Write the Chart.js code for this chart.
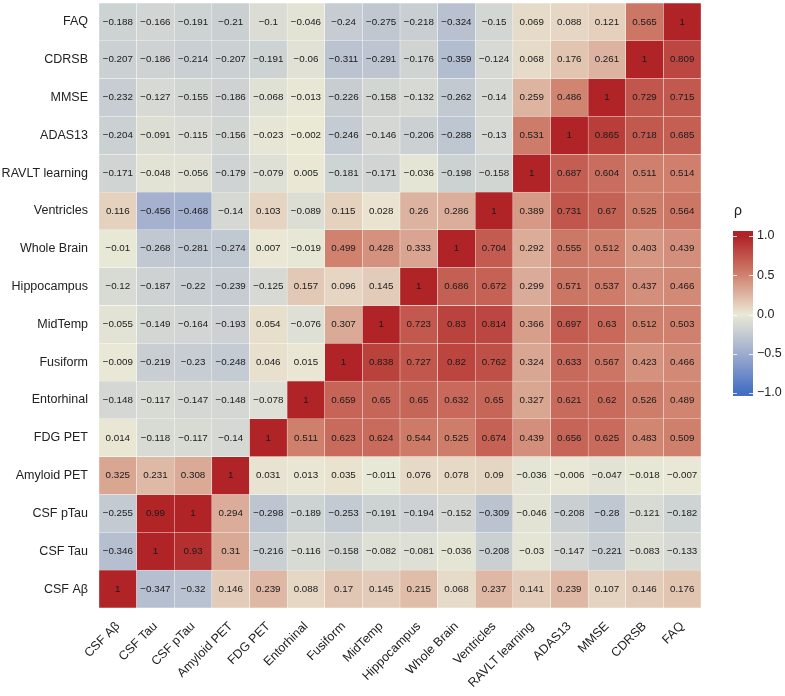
<!DOCTYPE html>
<html>
<head>
<meta charset="utf-8">
<script src="https://cdn.jsdelivr.net/npm/chart.js@4.4.0/dist/chart.umd.min.js"></script>
<style>
  body { margin: 0; background: #fff; }
  #wrap { width: 785px; height: 696px; }
</style>
</head>
<body>
<div id="wrap"><canvas id="heat" width="785" height="696"></canvas></div>
<script>
// variable names, x axis left to right, y axis bottom to top
const labels = ["CSF A\u03b2", "CSF Tau", "CSF pTau", "Amyloid PET", "FDG PET", "Entorhinal", "Fusiform",
    "MidTemp", "Hippocampus", "Whole Brain", "Ventricles", "RAVLT learning", "ADAS13", "MMSE", "CDRSB", "FAQ"];

// one row per y label, values in x label order
const rowCsfAb = [1, -0.347, -0.32, 0.146, 0.239, 0.088, 0.17, 0.145, 0.215, 0.068, 0.237, 0.141, 0.239, 0.107, 0.146, 0.176];
const rowCsfTau = [-0.346, 1, 0.93, 0.31, -0.216, -0.116, -0.158, -0.082, -0.081, -0.036, -0.208, -0.03, -0.147, -0.221, -0.083, -0.133];
const rowCsfPTau = [-0.255, 0.99, 1, 0.294, -0.298, -0.189, -0.253, -0.191, -0.194, -0.152, -0.309, -0.046, -0.208, -0.28, -0.121, -0.182];
const rowAmyloid = [0.325, 0.231, 0.308, 1, 0.031, 0.013, 0.035, -0.011, 0.076, 0.078, 0.09, -0.036, -0.006, -0.047, -0.018, -0.007];
const rowFdg = [0.014, -0.118, -0.117, -0.14, 1, 0.511, 0.623, 0.624, 0.544, 0.525, 0.674, 0.439, 0.656, 0.625, 0.483, 0.509];
const rowEntorhinal = [-0.148, -0.117, -0.147, -0.148, -0.078, 1, 0.659, 0.65, 0.65, 0.632, 0.65, 0.327, 0.621, 0.62, 0.526, 0.489];
const rowFusiform = [-0.009, -0.219, -0.23, -0.248, 0.046, 0.015, 1, 0.838, 0.727, 0.82, 0.762, 0.324, 0.633, 0.567, 0.423, 0.466];
const rowMidTemp = [-0.055, -0.149, -0.164, -0.193, 0.054, -0.076, 0.307, 1, 0.723, 0.83, 0.814, 0.366, 0.697, 0.63, 0.512, 0.503];
const rowHippo = [-0.12, -0.187, -0.22, -0.239, -0.125, 0.157, 0.096, 0.145, 1, 0.686, 0.672, 0.299, 0.571, 0.537, 0.437, 0.466];
const rowWholeBrain = [-0.01, -0.268, -0.281, -0.274, 0.007, -0.019, 0.499, 0.428, 0.333, 1, 0.704, 0.292, 0.555, 0.512, 0.403, 0.439];
const rowVentricles = [0.116, -0.456, -0.468, -0.14, 0.103, -0.089, 0.115, 0.028, 0.26, 0.286, 1, 0.389, 0.731, 0.67, 0.525, 0.564];
const rowRavlt = [-0.171, -0.048, -0.056, -0.179, -0.079, 0.005, -0.181, -0.171, -0.036, -0.198, -0.158, 1, 0.687, 0.604, 0.511, 0.514];
const rowAdas = [-0.204, -0.091, -0.115, -0.156, -0.023, -0.002, -0.246, -0.146, -0.206, -0.288, -0.13, 0.531, 1, 0.865, 0.718, 0.685];
const rowMmse = [-0.232, -0.127, -0.155, -0.186, -0.068, -0.013, -0.226, -0.158, -0.132, -0.262, -0.14, 0.259, 0.486, 1, 0.729, 0.715];
const rowCdrsb = [-0.207, -0.186, -0.214, -0.207, -0.191, -0.06, -0.311, -0.291, -0.176, -0.359, -0.124, 0.068, 0.176, 0.261, 1, 0.809];
const rowFaq = [-0.188, -0.166, -0.191, -0.21, -0.1, -0.046, -0.24, -0.275, -0.218, -0.324, -0.15, 0.069, 0.088, 0.121, 0.565, 1];

const legendTicks = [-1, -0.5, 0, 0.5, 1];

const matrix = [rowCsfAb, rowCsfTau, rowCsfPTau, rowAmyloid, rowFdg, rowEntorhinal, rowFusiform, rowMidTemp,
    rowHippo, rowWholeBrain, rowVentricles, rowRavlt, rowAdas, rowMmse, rowCdrsb, rowFaq];

// colour scale: blue - cream - red
const stops = [
    [-1, [67, 110, 195]],
    [-0.5, [158, 172, 205]],
    [0, [234, 233, 214]],
    [0.5, [208, 130, 110]],
    [1, [176, 35, 38]]
];

function colorFor(v) {
    v = Math.max(-1, Math.min(1, v));
    for (let i = 0; i < stops.length - 1; i++) {
        let a = stops[i], b = stops[i + 1];
        if (v <= b[0]) {
            let t = (v - a[0]) / (b[0] - a[0]);
            let c = a[1].map((x, k) => Math.round(x + (b[1][k] - x) * t));
            return "rgb(" + c.join(",") + ")";
        }
    }
    return "rgb(176,35,38)";
}

function fmt(v) {
    let s = String(Math.abs(v));
    return v < 0 ? "\u2212" + s : s;
}

// each row is a stacked dataset of height 1
let datasets = matrix.map(function (row, i) {
    return {
        label: labels[i],
        data: row.map(() => 1),
        backgroundColor: row.map(colorFor),
        borderColor: "rgba(255,255,255,0.55)",
        borderWidth: 0.5,
        borderSkipped: false,
        barPercentage: 1,
        categoryPercentage: 1
    };
});

const cellText = {
    id: "cellText",
    afterDatasetsDraw(chart) {
        let ctx = chart.ctx;
        let xs = chart.scales.x, ys = chart.scales.y;
        ctx.save();
        ctx.font = "9.8px 'Liberation Sans', Arial, sans-serif";
        ctx.fillStyle = "#1a1a1a";
        ctx.textAlign = "center";
        ctx.textBaseline = "middle";
        matrix.forEach(function (row, i) {
            row.forEach(function (v, j) {
                ctx.fillText(fmt(v), xs.getPixelForValue(j), ys.getPixelForValue(i + 0.5));
            });
        });
        ctx.restore();
    }
};

const colorBar = {
    id: "colorBar",
    afterDraw(chart) {
        let ctx = chart.ctx;
        let left = 733, w = 20;
        let yOf = v => 314.5 - v * 78.5;
        let top = yOf(1) - 5, bottom = yOf(-1) + 3;
        ctx.save();
        for (let y = top; y < bottom; y++) {
            let v = (yOf(0) - (y + 0.5)) / 78.5;
            ctx.fillStyle = colorFor(v);
            ctx.fillRect(left, y, w, 1);
        }
        ctx.strokeStyle = "rgba(255,255,255,0.8)";
        ctx.lineWidth = 1;
        ctx.font = "12.5px 'Liberation Sans', Arial, sans-serif";
        ctx.fillStyle = "#222";
        ctx.textAlign = "left";
        ctx.textBaseline = "middle";
        legendTicks.forEach(function (t) {
            let y = Math.round(yOf(t)) + 0.5;
            ctx.beginPath();
            ctx.moveTo(left, y); ctx.lineTo(left + 4, y);
            ctx.moveTo(left + w - 4, y); ctx.lineTo(left + w, y);
            ctx.stroke();
            ctx.fillText((t < 0 ? "\u2212" : "") + Math.abs(t).toFixed(1), left + w + 4, yOf(t));
        });
        ctx.font = "14px 'Liberation Sans', Arial, sans-serif";
        ctx.fillText("\u03c1", left + 1, 211);
        ctx.restore();
    }
};

new Chart(document.getElementById("heat"), {
    type: "bar",
    data: { labels: labels, datasets: datasets },
    plugins: [cellText, colorBar],
    options: {
        responsive: false,
        animation: false,
        layout: { padding: { left: 0, right: 84, top: 3, bottom: 0 } },
        plugins: { legend: { display: false }, tooltip: { enabled: false } },
        scales: {
            x: {
                stacked: true,
                grid: { display: false, drawTicks: false },
                border: { display: false },
                ticks: {
                    autoSkip: false, minRotation: 45, maxRotation: 45, padding: 11,
                    color: "#222", font: { family: "'Liberation Sans', Arial, sans-serif", size: 12.5 }
                },
                afterFit: function (scale) {
                    scale.height = 88;
                    scale.paddingLeft = 0;
                    scale.paddingRight = 0;
                }
            },
            y: {
                stacked: true,
                min: 0, max: 16,
                grid: { display: false, drawTicks: false },
                border: { display: false },
                afterBuildTicks: function (axis) {
                    axis.ticks = labels.map((l, i) => ({ value: i + 0.5 }));
                },
                ticks: {
                    padding: 11,
                    color: "#222",
                    font: { family: "'Liberation Sans', Arial, sans-serif", size: 12.5 },
                    callback: function (value, index) { return labels[index]; }
                },
                afterFit: function (scale) {
                    scale.width = 99;
                    scale.paddingTop = 0;
                    scale.paddingBottom = 0;
                }
            }
        }
    }
});
</script>
</body>
</html>
